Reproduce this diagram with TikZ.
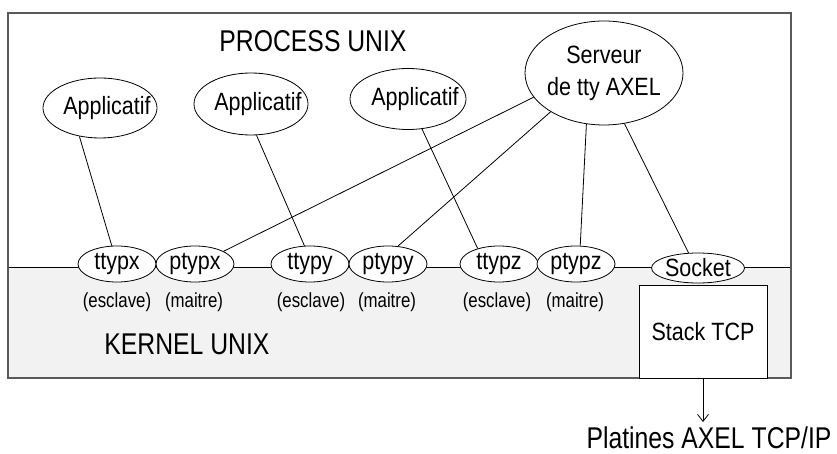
\documentclass[tikz,border=0pt]{standalone}
\usepackage{fontspec}
\setmainfont{Liberation Sans}[FakeStretch=0.825]
\newfontfamily\midfont{Liberation Sans}[FakeStretch=0.86]
\usepackage{xcolor}
\usetikzlibrary{shapes.geometric,arrows.meta}
\definecolor{kernelgray}{HTML}{F2F2F2}
\definecolor{framegray}{HTML}{5A5A5A}

\begin{document}
\begin{tikzpicture}[x=1pt,y=-1pt,
  midtxt/.style={font=\midfont\fontsize{25}{32}\selectfont},
  proc/.style={ellipse,draw,fill=white,inner xsep=-6pt,inner ysep=0pt,line width=0.8pt,midtxt},
  dev/.style={ellipse,draw,fill=white,inner sep=0pt,minimum width=78pt,minimum height=36pt,line width=0.8pt,midtxt},
  role/.style={inner sep=0pt,font=\fontsize{20.4}{24}\selectfont},
  zonetxt/.style={inner sep=0pt,font=\fontsize{30}{34}\selectfont},
  link/.style={line width=0.8pt}]
\useasboundingbox (0,0) rectangle (837,454);
%%%%%%%%%%%%%%%%
\fill[kernelgray] (8,267) rectangle (791,378);
\draw[line width=0.8pt] (8,267) -- (791,267);
\draw[framegray,line width=1.2pt] (8,13) rectangle (791,378);
\node[zonetxt] (process) at (313,41) {PROCESS UNIX};
\node[zonetxt] (kernel) at (187,344) {KERNEL UNIX};
%%%%%%%%%%%%%%%%
\node[draw,fill=white,line width=0.8pt,minimum width=128pt,minimum height=93pt,midtxt] (stack) at (703,331.5) {Stack TCP};
\coordinate (out) at (703,422);
\draw[link,-{Straight Barb[length=7pt,width=11pt]}] (stack.south) -- (out);
\node[zonetxt,anchor=base] (platines) at (709,448) {Platines AXEL TCP/IP};
%%%%%%%%%%%%%%%%
\node[proc,minimum width=114pt,minimum height=60pt,label={[midtxt,xshift=7pt]center:Applicatif}] (appx) at (100,108) {};
\node[proc,minimum width=114pt,minimum height=62pt,label={[midtxt,xshift=7pt]center:Applicatif}] (appy) at (251,104) {};
\node[proc,minimum width=116pt,minimum height=61pt,label={[midtxt,xshift=7pt]center:Applicatif}] (appz) at (408,99) {};
\node[proc,align=center,minimum width=158pt,minimum height=104pt] (serveur) at (604,73) {Serveur\\de tty AXEL};
%%%%%%%%%%%%%%%%
\node[dev] (ttypx) at (117,264) {ttypx};
\node[dev] (ptypx) at (195,264) {ptypx};
\node[role] (esclx) at (117,302) {(esclave)};
\node[role] (maitx) at (194,302) {(maitre)};
%%%%%%%%%%%%%%%%
\node[dev] (ttypy) at (310,264) {ttypy};
\node[dev] (ptypy) at (388,264) {ptypy};
\node[role] (escly) at (311,302) {(esclave)};
\node[role] (maity) at (387,302) {(maitre)};
%%%%%%%%%%%%%%%%
\node[dev] (ttypz) at (499,264) {ttypz};
\node[dev] (ptypz) at (576,264) {ptypz};
\node[role] (esclz) at (497,302) {(esclave)};
\node[role] (maitz) at (575,302) {(maitre)};
%%%%%%%%%%%%%%%%
\node[dev,minimum width=92pt,minimum height=30pt] (socket) at (698,268) {Socket};
%%%%%%%%%%%%%%%%
\draw[link] (appx.234) -- (ttypx.106);
\draw[link] (appy.280) -- (ttypy.107);
\draw[link] (appz.295) -- (ttypz.144);
\draw[link] (serveur.199) -- (ptypx.24);
\draw[link] (serveur.216) -- (ptypy.61);
\draw[link] (serveur.251) -- (ptypz.77);
\draw[link] (serveur.292) -- (socket.122);
\end{tikzpicture}
\end{document}
